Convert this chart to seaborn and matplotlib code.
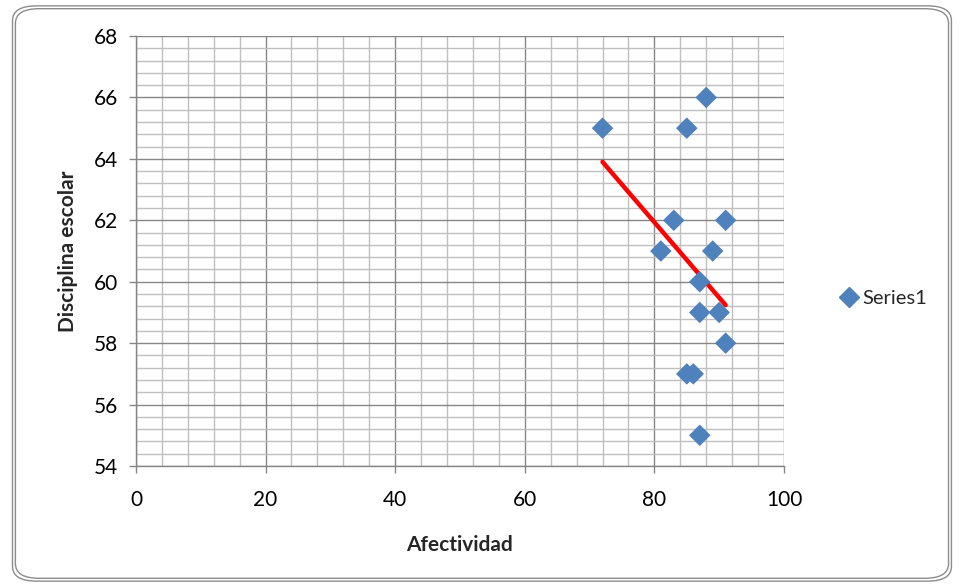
import numpy as np
import pandas as pd
import seaborn as sns
import matplotlib.pyplot as plt
from matplotlib.patches import FancyBboxPatch
from matplotlib.ticker import MultipleLocator
from matplotlib.lines import Line2D

# Datos
afectividad = [72, 85, 88, 83, 91, 81, 89, 87, 87, 90, 91, 85, 86, 87]
disciplina = [65, 65, 66, 62, 62, 61, 61, 60, 59, 59, 58, 57, 57, 55]
serie = "Series1"

data = pd.DataFrame({"Afectividad": afectividad, "Disciplina escolar": disciplina})

sns.set_style("white")
plt.rcParams['font.family'] = ['Lato', 'DejaVu Sans']

fig = plt.figure(figsize=(9.63, 5.87), dpi=100)
ax = fig.add_axes([0.1412, 0.2061, 0.6729, 0.7325])

# marco redondeado (doble línea)
for pad in [0.0, 0.003]:
    fig.patches.append(FancyBboxPatch((0.013 + pad, 0.010 + pad * 1.6), 0.975 - 2 * pad, 0.980 - 3.2 * pad,
                                      boxstyle="round,pad=0,rounding_size=0.025",
                                      transform=fig.transFigure, fill=False,
                                      edgecolor="#8c8c8c", linewidth=1.0, zorder=0))

color_pt = "#4f81bd"
sns.regplot(x="Afectividad", y="Disciplina escolar", data=data, ax=ax, ci=None, truncate=True,
            marker="D",
            scatter_kws={"s": 120, "color": color_pt, "alpha": 1, "edgecolor": "none", "zorder": 4},
            line_kws={"color": "#ff0000", "linewidth": 3.2, "zorder": 3, "solid_capstyle": "round"})

ax.set_xlim(0, 100)
ax.set_ylim(54, 68)
ax.xaxis.set_major_locator(MultipleLocator(20))
ax.xaxis.set_minor_locator(MultipleLocator(4))
ax.yaxis.set_major_locator(MultipleLocator(2))
ax.yaxis.set_minor_locator(MultipleLocator(0.4))
ax.grid(which="major", color="#868686", linewidth=1.0)
ax.grid(which="minor", color="#bfbfbf", linewidth=1.0)
ax.set_axisbelow(True)

for s in ["top", "right"]:
    ax.spines[s].set_visible(False)
for s in ["left", "bottom"]:
    ax.spines[s].set_color("#868686")
    ax.spines[s].set_linewidth(1.0)

ax.tick_params(which="major", direction="out", length=5, width=1, color="#868686",
               labelsize=15, labelcolor="black", left=True, bottom=True)
ax.tick_params(axis="x", pad=12)
ax.tick_params(axis="y", pad=8)
ax.tick_params(which="minor", length=0)

ax.set_xlabel("Afectividad", fontsize=15, fontweight="bold", labelpad=18)
ax.set_ylabel("Disciplina escolar", fontsize=15, fontweight="bold", labelpad=11)

handle = Line2D([], [], marker="D", linestyle="none", color=color_pt, markersize=10)
fig.legend([handle], [serie], loc="center left", bbox_to_anchor=(0.85, 0.492), frameon=False,
           fontsize=14.5, handletextpad=0.1, handlelength=1.2)

fig.savefig("out.png", dpi=100)
